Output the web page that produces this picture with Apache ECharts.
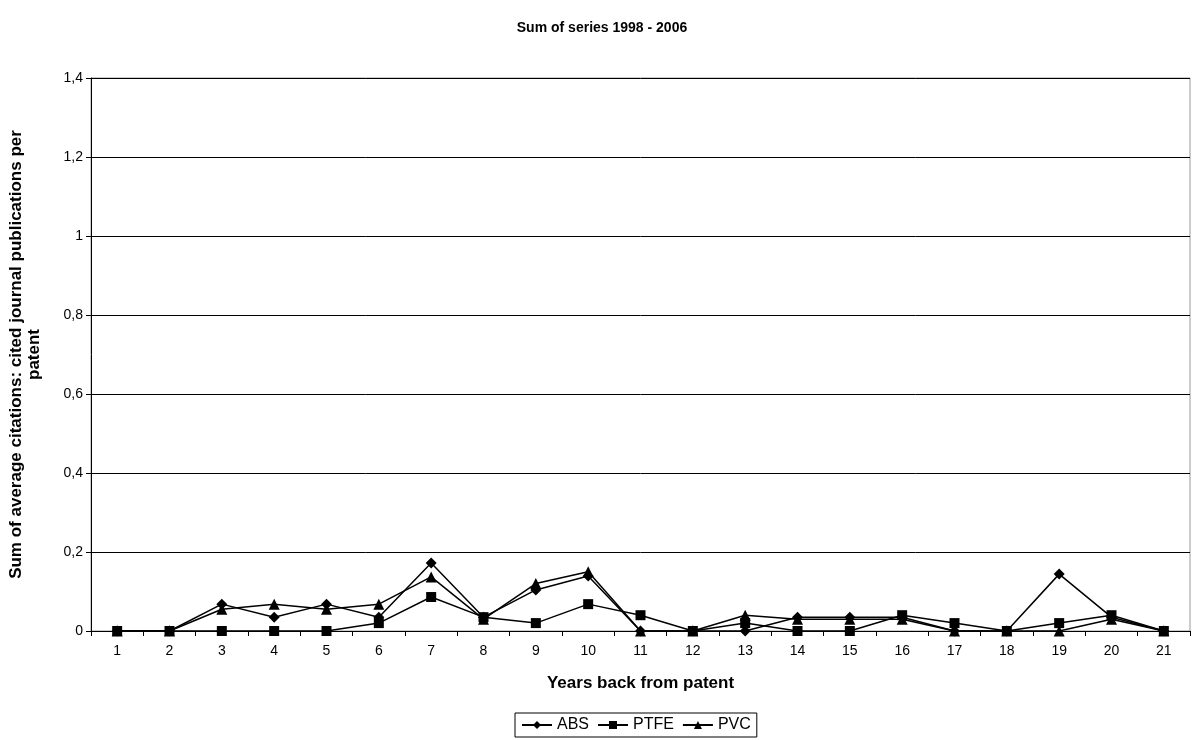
<!DOCTYPE html>
<html><head><meta charset="utf-8">
<script src="https://cdn.jsdelivr.net/npm/echarts@6/dist/echarts.min.js"></script>
<style>html,body{margin:0;padding:0;background:#fff}#c{width:1204px;height:740px}</style>
</head><body><div id="c"></div>
<script>
const categories = ['1','2','3','4','5','6','7','8','9','10','11','12','13','14','15','16','17','18','19','20','21'];
const absValues  = [0,0,0.068,0.035,0.068,0.035,0.172,0.035,0.104,0.139,0,0,0,0.035,0.035,0.035,0,0,0.144,0.035,0];
const ptfeValues = [0,0,0,0,0,0.02,0.086,0.035,0.02,0.068,0.04,0,0.02,0,0,0.04,0.02,0,0.02,0.04,0];
const pvcValues  = [0,0,0.055,0.068,0.055,0.068,0.137,0.03,0.12,0.15,0,0,0.04,0.03,0.03,0.03,0,0,0,0.03,0];
const yTicks = [0,0.2,0.4,0.6,0.8,1,1.2,1.4];

const chart = echarts.init(document.getElementById('c'));
const font = 'Liberation Sans, Arial, sans-serif';
function mk(name, data, symbol, size){
  return {name, type:'line', data, symbol, symbolSize:size, showAllSymbol:true,
    lineStyle:{color:'#000', width:1.5}, itemStyle:{color:'#000'}, animation:false};
}
chart.setOption({
  animation:false,
  title:{text:'Sum of series 1998 - 2006', left:'center', top:16,
    textStyle:{fontFamily:font, fontSize:14, fontWeight:'bold', color:'#000'}},
  grid:{left:91, right:14, top:78, bottom:109, show:true, borderColor:'#999', borderWidth:1,
    containLabel:false, outerBoundsMode:'none'},
  xAxis:{type:'category', data:categories, boundaryGap:true,
    name:'Years back from patent', nameLocation:'middle', nameGap:44,
    nameTextStyle:{fontFamily:font, fontSize:17, fontWeight:'bold', color:'#000'},
    axisLine:{lineStyle:{color:'#000', width:1}},
    axisTick:{show:true, alignWithLabel:false, length:5, lineStyle:{color:'#000'}},
    axisLabel:{fontFamily:font, fontSize:14, color:'#000', margin:13, interval:0}},
  yAxis:{type:'value', min:0, max:1.4, interval:0.2,
    name:'Sum of average citations: cited journal publications per\npatent',
    nameLocation:'middle', nameGap:48, nameRotate:90,
    nameTextStyle:{fontFamily:font, fontSize:17, fontWeight:'bold', color:'#000', lineHeight:18},
    axisLine:{show:true, lineStyle:{color:'#000', width:1}},
    axisTick:{show:true, length:5, lineStyle:{color:'#000'}},
    splitLine:{show:true, lineStyle:{color:'#000', width:1}},
    axisLabel:{fontFamily:font, fontSize:14, color:'#000', margin:8,
      formatter:v=>{ const t = yTicks.find(x=>Math.abs(x-v)<1e-9); return String(+(t!==undefined?t:v).toFixed(1)).replace('.',','); }}},
  legend:{top:713, left:515, data:['ABS','PTFE','PVC'],
    borderColor:'#000', borderWidth:1, padding:[4,6,4,6], itemGap:8, itemWidth:30, itemHeight:10,
    textStyle:{fontFamily:font, fontSize:16, color:'#000'}},
  series:[mk('ABS', absValues, 'diamond', 11), mk('PTFE', ptfeValues, 'rect', 10), mk('PVC', pvcValues, 'triangle', 11)]
});
</script></body></html>
